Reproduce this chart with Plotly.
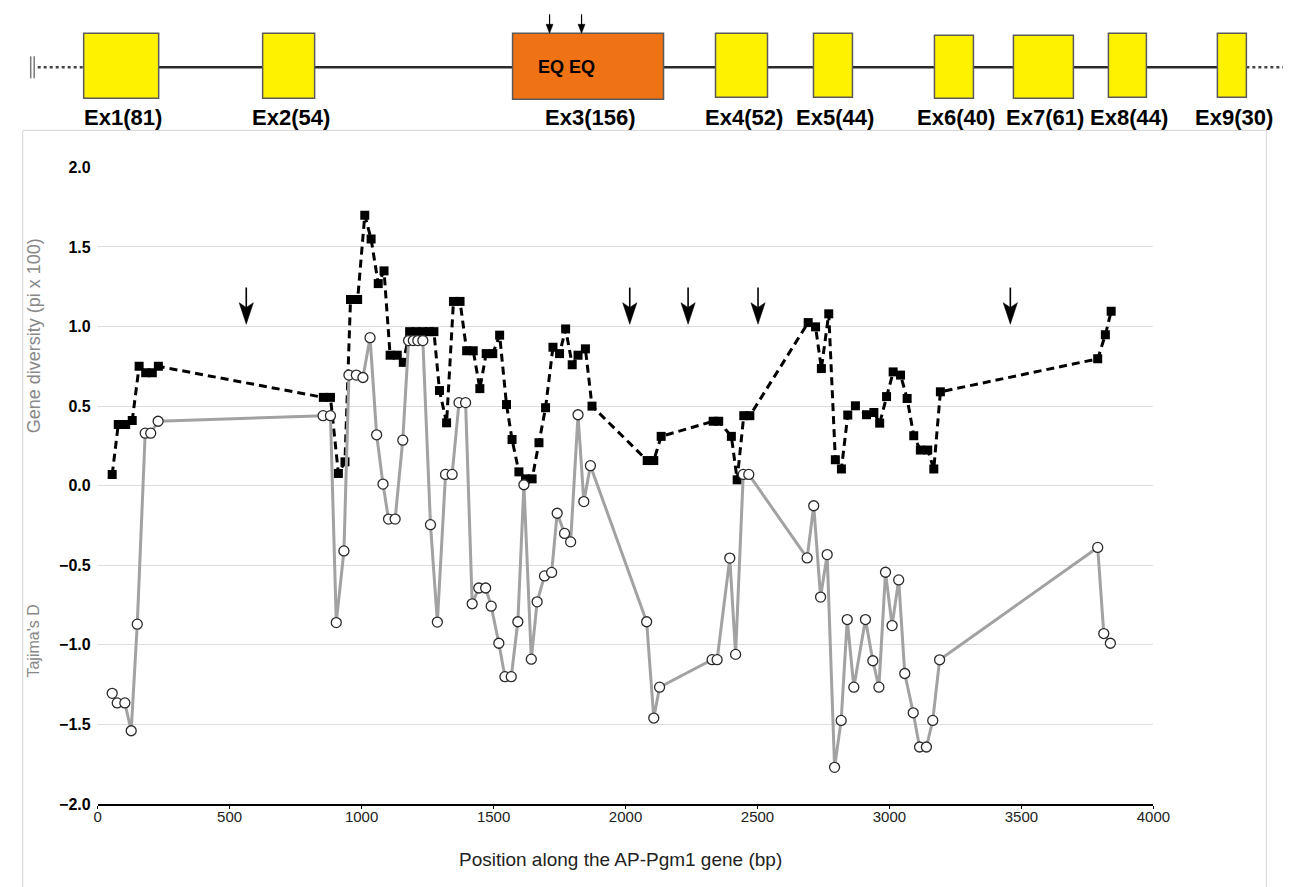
import plotly.graph_objects as go

W, H = 1291, 887
FONT = "Liberation Sans, Arial, Helvetica, sans-serif"

# ---------------- data ----------------
positions_pi = [55, 78, 106, 131, 157, 182, 207, 230, 855, 882, 912, 937, 958, 985, 1012, 1036,
                1063, 1085, 1108, 1135, 1158, 1182, 1207, 1232, 1256, 1274, 1295, 1322, 1348,
                1373, 1398, 1423, 1448, 1472, 1497, 1523, 1549, 1570, 1596, 1621, 1646, 1672,
                1697, 1725, 1750, 1773, 1798, 1820, 1848, 1873, 2082, 2107, 2135, 2332, 2353,
                2401, 2423, 2448, 2471, 2692, 2720, 2742, 2770, 2795, 2818, 2842, 2871, 2913,
                2941, 2963, 2989, 3014, 3042, 3067, 3092, 3117, 3145, 3168, 3193, 3789, 3818, 3840]
pi_values = [0.07, 0.385, 0.385, 0.41, 0.75, 0.71, 0.71, 0.75, 0.555, 0.555, 0.077, 0.15, 1.17,
             1.17, 1.70, 1.55, 1.27, 1.35, 0.82, 0.82, 0.775, 0.968, 0.968, 0.968, 0.968, 0.968,
             0.598, 0.395, 1.158, 1.158, 0.848, 0.848, 0.61, 0.83, 0.83, 0.946, 0.51, 0.29,
             0.087, 0.043, 0.043, 0.27, 0.49, 0.87, 0.83, 0.985, 0.76, 0.82, 0.86, 0.50, 0.158,
             0.158, 0.31, 0.405, 0.405, 0.31, 0.037, 0.44, 0.44, 1.025, 0.998, 0.736, 1.08,
             0.163, 0.105, 0.444, 0.502, 0.446, 0.46, 0.393, 0.56, 0.715, 0.695, 0.548, 0.314,
             0.224, 0.224, 0.105, 0.59, 0.797, 0.948, 1.096]

positions_d = [55, 74, 103, 127, 150, 180, 201, 229, 854, 882, 904, 933, 952, 980, 1005, 1032,
               1057, 1081, 1102, 1127, 1156, 1178, 1196, 1213, 1232, 1261, 1287, 1318, 1343,
               1369, 1394, 1419, 1444, 1470, 1491, 1520, 1543, 1567, 1592, 1615, 1643, 1665,
               1693, 1720, 1741, 1769, 1792, 1820, 1842, 1867, 2080, 2107, 2129, 2328, 2347,
               2395, 2417, 2446, 2467, 2688, 2713, 2739, 2764, 2792, 2817, 2840, 2865, 2909,
               2937, 2960, 2985, 3010, 3035, 3058, 3090, 3114, 3140, 3164, 3190, 3789, 3812, 3837]
tajima_d = [-1.305, -1.365, -1.365, -1.54, -0.87, 0.33, 0.33, 0.405, 0.44, 0.44, -0.86, -0.41,
            0.695, 0.695, 0.68, 0.93, 0.32, 0.01, -0.21, -0.21, 0.286, 0.912, 0.912, 0.912,
            0.912, -0.245, -0.857, 0.071, 0.071, 0.522, 0.522, -0.742, -0.643, -0.643, -0.757,
            -0.99, -1.20, -1.20, -0.855, 0.006, -1.09, -0.73, -0.567, -0.545, -0.173, -0.30,
            -0.353, 0.446, -0.10, 0.126, -0.855, -1.46, -1.266, -1.093, -1.093, -0.455, -1.06,
            0.071, 0.071, -0.454, -0.126, -0.70, -0.433, -1.77, -1.475, -0.841, -1.266, -0.841,
            -1.10, -1.266, -0.544, -0.879, -0.592, -1.18, -1.427, -1.642, -1.642, -1.475,
            -1.094, -0.388, -0.929, -0.99]

arrow_positions = [563, 2016, 2237, 2502, 3458]

exon_labels = ["Ex1(81)", "Ex2(54)", "Ex3(156)", "Ex4(52)", "Ex5(44)",
               "Ex6(40)", "Ex7(61)", "Ex8(44)", "Ex9(30)"]
x_ticks = [0, 500, 1000, 1500, 2000, 2500, 3000, 3500, 4000]
y_ticks = [-2.0, -1.5, -1.0, -0.5, 0.0, 0.5, 1.0, 1.5, 2.0]
y_tick_text = [f"{v:.1f}".replace("-", "\u2212") for v in y_ticks]

# ---------------- layout helpers (target pixel -> paper) ----------------
SX, OX, SY, OY = 0.984, 11.3, 0.98, 15.7  # compensation for the page capture


def px(x):
    return ((x - OX) / SX) / W


def py(y):
    return 1 - ((y - OY) / SY) / H


# schematic exon boxes (pixel extents in the gene diagram)
exon_boxes = [(83, 158, 33, 98), (262, 314, 33, 98), (512, 663, 33, 99), (715, 767, 33, 97),
              (813, 852, 33, 97), (934, 973, 35, 98), (1013, 1073, 35, 98), (1108, 1146, 33, 97),
              (1217, 1246, 33, 97)]
exon_colors = ["#FFF200", "#FFF200", "#EF7215", "#FFF200", "#FFF200",
               "#FFF200", "#FFF200", "#FFF200", "#FFF200"]

fig = go.Figure()

fig.add_trace(go.Scatter(
    x=positions_pi, y=pi_values, mode="lines+markers",
    line=dict(color="black", width=3, dash="8px,5px"),
    marker=dict(symbol="square", size=9, color="black"),
    name="Gene diversity", hoverinfo="x+y"))

fig.add_trace(go.Scatter(
    x=positions_d, y=tajima_d, mode="lines+markers",
    line=dict(color="#a2a2a2", width=3),
    marker=dict(symbol="circle", size=10, color="white", line=dict(color="#2a2a2a", width=1.3)),
    name="Tajima's D", hoverinfo="x+y"))

shapes = []
annotations = []

# outer light frame
shapes.append(dict(type="rect", xref="paper", yref="paper", x0=px(22), x1=px(1266),
                   y0=py(905), y1=py(130), line=dict(color="#d6d6d6", width=1), layer="below"))

# gene diagram: ends
shapes.append(dict(type="line", xref="paper", yref="paper", x0=px(37), x1=px(83), y0=py(67), y1=py(67),
                   line=dict(color="#444", width=2.5, dash="dot")))
shapes.append(dict(type="line", xref="paper", yref="paper", x0=px(1246), x1=px(1291), y0=py(67), y1=py(67),
                   line=dict(color="#444", width=2.5, dash="dot")))
for xx in (30, 33.5):
    shapes.append(dict(type="line", xref="paper", yref="paper", x0=px(xx), x1=px(xx), y0=py(56), y1=py(78),
                       line=dict(color="#777", width=1.5)))
# intron line
shapes.append(dict(type="line", xref="paper", yref="paper", x0=px(158), x1=px(1217), y0=py(67), y1=py(67),
                   line=dict(color="#2b2b2b", width=2.5)))
# exons
for (x0, x1, y0, y1), col, lab in zip(exon_boxes, exon_colors, exon_labels):
    shapes.append(dict(type="rect", xref="paper", yref="paper", x0=px(x0), x1=px(x1), y0=py(y1), y1=py(y0),
                       fillcolor=col, line=dict(color="#5a5a5a", width=1.5)))
    annotations.append(dict(xref="paper", yref="paper", x=px((x0 + x1) / 2 + 2), y=py(117), text=lab,
                            showarrow=False, font=dict(family=FONT, size=22, color="black", weight="bold"),
                            xanchor="center", yanchor="middle"))
annotations.append(dict(xref="paper", yref="paper", x=px(566), y=py(67), text="EQ EQ", showarrow=False,
                        font=dict(family=FONT, size=18, color="black", weight="bold"),
                        xanchor="center", yanchor="middle"))
# small arrows over Ex3
for xx in (549, 581):
    shapes.append(dict(type="line", xref="paper", yref="paper", x0=px(xx), x1=px(xx), y0=py(14), y1=py(26),
                       line=dict(color="black", width=1.2)))
    shapes.append(dict(type="path", xref="paper", yref="paper",
                       path=f"M {px(xx-3.5)},{py(24)} L {px(xx)},{py(33)} L {px(xx+3.5)},{py(24)} Z",
                       fillcolor="black", line=dict(color="black", width=0.5)))

# arrows in plot (data coordinates)
for p in arrow_positions:
    shapes.append(dict(type="line", xref="x", yref="y", x0=p, x1=p, y0=1.245, y1=1.12,
                       line=dict(color="black", width=1.6)))
    shapes.append(dict(type="path", xref="x", yref="y",
                       path=f"M {p-27},{1.15} L {p},{1.015} L {p+27},{1.15} L {p},{1.12} Z",
                       fillcolor="black", line=dict(color="black", width=0.5)))

# axis titles
annotations.append(dict(xref="paper", yref="paper", x=px(33), y=py(335), text="Gene diversity (pi x 100)",
                        textangle=-90, showarrow=False, font=dict(family=FONT, size=18, color="#888888"),
                        xanchor="center", yanchor="middle"))
annotations.append(dict(xref="paper", yref="paper", x=px(33), y=py(640), text="Tajima's D",
                        textangle=-90, showarrow=False, font=dict(family=FONT, size=16, color="#888888"),
                        xanchor="center", yanchor="middle"))
annotations.append(dict(xref="paper", yref="paper", x=px(620), y=py(858),
                        text="Position along the AP-Pgm1 gene (bp)", showarrow=False,
                        font=dict(family=FONT, size=19, color="#222222"),
                        xanchor="center", yanchor="middle"))

fig.update_layout(
    width=W, height=H,
    margin=dict(l=0, r=0, t=0, b=0),
    paper_bgcolor="white", plot_bgcolor="white",
    showlegend=False,
    font=dict(family=FONT),
    shapes=shapes, annotations=annotations,
    xaxis=dict(domain=[px(97), px(1153)], range=[0, 4000], tickvals=x_ticks,
               showgrid=False, zeroline=False, showline=True, linecolor="black", linewidth=1.5,
               ticks="outside", ticklen=3, tickcolor="black", tickwidth=1, ticklabelstandoff=-5,
               tickfont=dict(family=FONT, size=15, color="#222222")),
    yaxis=dict(domain=[py(803), py(167)], range=[-2, 2], tickvals=y_ticks, ticktext=y_tick_text,
               showgrid=True, gridcolor="#dddddd", gridwidth=1, zeroline=False, showline=False,
               ticks="", ticklabelstandoff=6,
               tickfont=dict(family=FONT, size=16, color="black", weight="bold")),
)

fig.write_html("out.html")
